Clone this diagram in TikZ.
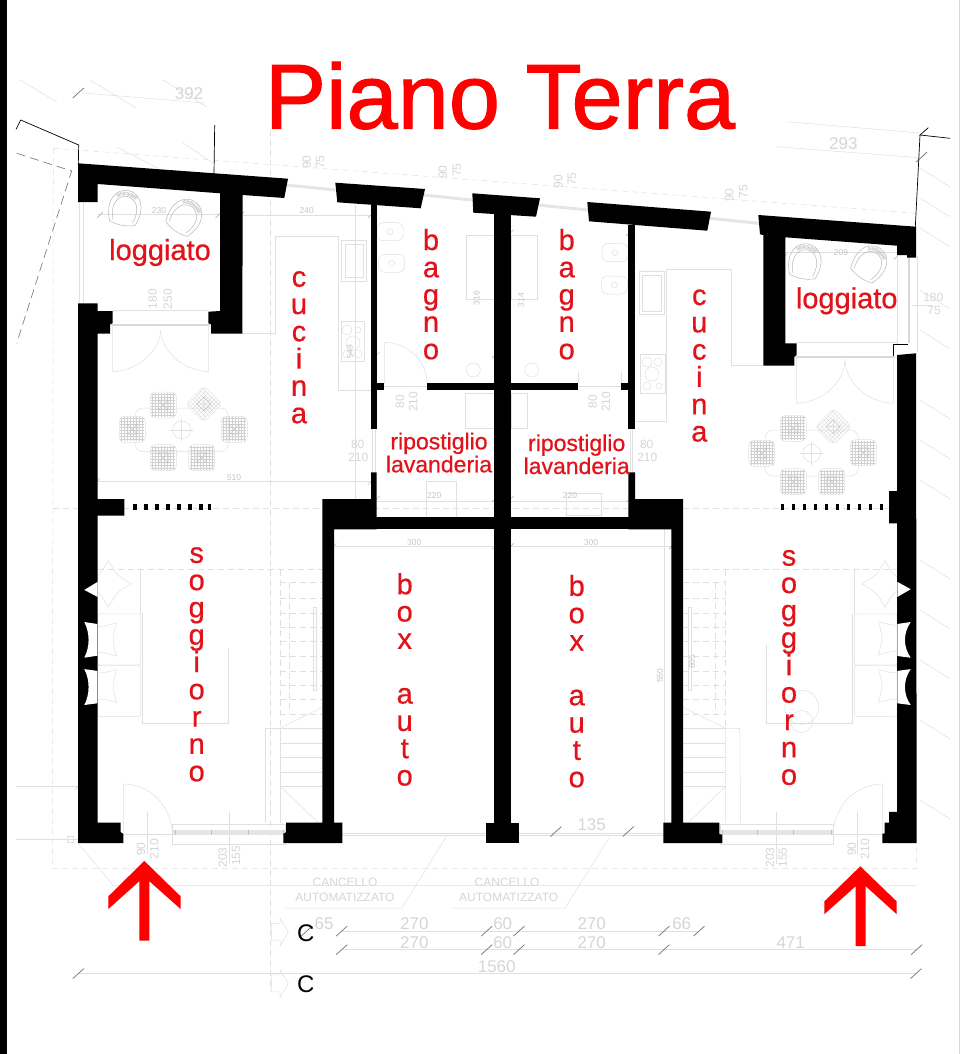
\documentclass[tikz,border=0pt]{standalone}
\usepackage{fontspec}
\setmainfont{Liberation Sans}
\newfontfamily\roomfont[FakeBold=0.6]{Liberation Sans}
\newfontfamily\titlefont[FakeBold=1.2]{Liberation Sans}
\definecolor{roomred}{HTML}{E2121A}
\tikzset{
  wallfill/.style={fill=black,draw=none},
  flare/.style={fill=white,draw=none},
  faint/.style={draw=black!12,line width=0.5pt},
  faintdash/.style={faint,dash pattern=on 6pt off 4pt},
  tickmark/.style={draw=black!55,line width=0.7pt},
  smalltick/.style={draw=black!35,line width=0.4pt},
  sketch/.style={draw=black,line width=0.7pt},
  roomlabel/.style={text=roomred,font=\roomfont\fontsize{29}{29}\selectfont,inner sep=0pt,anchor=base},
  smalllabel/.style={text=roomred,font=\roomfont\fontsize{23}{23}\selectfont,inner sep=0pt,anchor=base},
  dimtiny/.style={text=black!22,font=\fontsize{8.5}{9}\selectfont,inner sep=0pt},
  dimmid/.style={text=black!16,font=\fontsize{12}{12}\selectfont,inner sep=0pt},
  dimbig/.style={text=black!16,font=\fontsize{17}{17}\selectfont,inner sep=0pt},
  seat/.pic={
    \foreach \t in {-11,-8,...,11} {
      \draw[draw=black!18,line width=0.25pt] (\t,-12) -- (\t,12);
      \draw[draw=black!18,line width=0.25pt] (-12,\t) -- (12,\t);
    }
    \draw[faint,rounded corners=5pt] (-13,-13) rectangle (13,13);
    \draw[draw=black!25,line width=0.3pt] (-5,-5) rectangle (5,5) (-5,-5) -- (5,5) (-5,5) -- (5,-5);
  },
  chair/.pic={
    \draw[draw=black!28,line width=0.5pt] (-13,15) .. controls (-21,-5) and (-12,-18) .. (0,-18) .. controls (12,-18) and (21,-5) .. (13,15);
    \draw[draw=black!28,line width=0.5pt] (-10,13) .. controls (-16,-3) and (-8,-12) .. (0,-12) .. controls (8,-12) and (16,-3) .. (10,13);
    \draw[draw=black!25,line width=3.5pt,dash pattern=on 0.5pt off 0.8pt] (-10,-11) .. controls (-6,-16) and (6,-16) .. (10,-11);
    \draw[draw=black!28,line width=0.5pt] (-13,15) .. controls (-5,18) and (5,18) .. (13,15);
  },
  pillow/.pic={
    \draw[faint] (-16.5,-16.5) .. controls (0,-12) .. (16.5,-16.5) .. controls (12,0) .. (16.5,16.5)
      .. controls (0,12) .. (-16.5,16.5) .. controls (-12,0) .. (-16.5,-16.5);
  },
}
\newcommand{\vertlabel}[5]{%
  \foreach \ch [count=\idx from 0] in {#5}
    \node[roomlabel] (#1\idx) at (#2,#3+#4*\idx) {\ch};
}
\begin{document}
\begin{tikzpicture}[x=1pt,y=-1pt]
  \useasboundingbox (0,0) rectangle (960,1054);
  \fill[white] (0,0) rectangle (960,1054);
  \fill[black] (0,0) rectangle (6.5,1054);
  \draw[black!15] (958.8,0) -- (958.8,1054);

  % faint survey lines
  \foreach \xa/\ya/\xb/\yb in {20/80/57/102, 90/80/136/108, 163/80/207/107, 117/147/157/168, 183/143/213/163,
      920/168/950/187, 920/198/950/217, 920/228/950/247, 920/290/950/309, 920/330/950/349, 920/400/950/419,
      920/440/950/459, 920/480/950/499, 920/560/950/579, 920/610/950/629, 920/660/950/679, 920/720/950/739, 920/800/950/819}
    \draw[faint] (\xa,\ya) -- (\xb,\yb);
  \draw[faint] (83,93) -- (205,103);
  \draw[faint] (776.7,146.7) -- (920,157.7);
  \draw[faint] (786.7,121.7) -- (920,133);
  \draw[faintdash] (53.3,148.3) -- (52.3,868.6) -- (916.7,868.6) -- (916.7,843);
  \draw[faintdash] (53.3,148.3) -- (78,150) -- (916,213.3);
  \draw[faintdash] (53,508.3) -- (894,508.3);
  \draw[faintdash] (270,130) -- (270,990.8);
  \draw[faintdash] (97.7,569.6) -- (322,569.6);
  \draw[faintdash] (683,569.6) -- (897,569.6);

  % inner dimension lines
  \draw[faint] (97.7,481.7) -- (371,481.7);
  \draw[faint] (242.7,215) -- (371,215);
  \draw[faint] (97.7,214) -- (220,214);
  \draw[faint] (785.3,252) -- (897,252);
  \draw[faint] (334,546.3) -- (494,546.3);
  \draw[faint] (511,546.3) -- (671,546.3);
  \draw[faint] (664,529.4) -- (664,822.7);
  \draw[faint] (377,501) -- (494,501);
  \draw[faint] (511,501) -- (628,501);
  \draw[faint] (355,205) -- (355,500);
  \draw[faint] (912,305) -- (932,305);
  \draw[faint] (16,786.3) -- (78,786.3);
  \foreach \px/\py in {100/215, 218.5/215, 241/215, 371/215, 376.7/355, 96.7/481.7, 371/481.7, 376.7/499, 495/355, 510.7/232.7,
      495/499, 510.7/499, 629.3/232.7, 629.3/499, 495/546.3, 510.7/546.3, 671.7/546.3, 333.3/546.3, 78.3/786.3, 784/256.7, 896.7/256.7}
    \draw[smalltick] (\px-3,\py+3) -- (\px+3,\py-3);

  % top windows
  \foreach \xa/\ya/\xb/\yb in {286.7/185/335/190, 424/195/471.7/200, 537.3/205/588.3/210, 710/218.3/758.3/223.3}
    \draw[draw=black!10,line width=3pt] (\xa,\ya) -- (\xb,\yb);

  % loggia doors
  \draw[draw=black!15,line width=2pt] (110.7,324.6) -- (210,324.6);
  \draw[faint] (112.7,324) -- (112.7,371.7) .. controls (140,370) and (160,350) .. (160.7,330);
  \draw[faint] (208.3,324) -- (208.3,371.7) .. controls (181,370) and (161,350) .. (160.7,330);
  \draw[faint] (112.7,310) -- (208.3,310);
  \draw[faint] (79.5,202) -- (79.5,303) (83,202) -- (83,303);
  \draw[draw=black!15,line width=2pt] (795,356.7) -- (895,356.7);
  \draw[faint] (796.7,357) -- (796.7,403.3) .. controls (824,402) and (844,382) .. (845,360);
  \draw[faint] (893.3,357) -- (893.3,403.3) .. controls (866,402) and (846,382) .. (845,360);
  \draw[faint] (797,342) -- (897,342);
  \draw[draw=black!15,line width=2pt] (909,257) -- (909,343);
  \draw[faint] (897,255) -- (897,345);
  \draw[faint] (917.7,256) -- (917.7,352);

  % table groups
  \draw[faint,rounded corners=8pt] (135,408) rectangle (228.3,451.7);
  \draw[faint] (181.7,430) circle (9);
  \draw[faint] (170,430) -- (193,430) (181.7,419) -- (181.7,441);
  \foreach \px/\py/\rt in {163.3/405/0, 204/404/45, 234.3/429.3/0, 201.7/457.7/0, 163.3/457.7/0, 132.3/429.3/0}
    \pic[rotate=\rt] at (\px,\py) {seat};
  \draw[faint,rounded corners=8pt] (765,430) rectangle (858.3,476);
  \draw[faint] (811.7,453.3) circle (9);
  \draw[faint] (800,453.3) -- (823,453.3) (811.7,442) -- (811.7,465);
  \foreach \px/\py/\rt in {793.3/428.3/0, 833.3/426.7/45, 863.3/452.7/0, 831.7/481.7/0, 793.3/481.7/0, 761.7/453.3/0}
    \pic[rotate=\rt] at (\px,\py) {seat};

  % loggia chairs
  \pic[rotate=-10] at (125,208.3) {chair};
  \pic[rotate=-35] at (185,216.7) {chair};
  \pic[rotate=-10] at (805,261.7) {chair};
  \pic[rotate=-35] at (870,263.3) {chair};

  % kitchen counters
  \draw[faint] (242.3,333.3) -- (275,333.3) -- (275,236.7) -- (338.3,236.7) -- (338.3,390) -- (371,390);
  \draw[faint] (341.7,240) rectangle (366.7,281.7);
  \draw[faint] (345,244) rectangle (363,277);
  \draw[faint] (341.7,321.7) rectangle (364,361.7);
  \foreach \px/\py/\rr in {347/330/5, 358/330/3, 353/343/7, 347/354/4, 358/354/4}
    \draw[faint] (\px,\py) circle (\rr);
  \draw[faint] (635.7,421.7) -- (666.7,421.7) -- (666.7,269.3) -- (731.7,269.3) -- (731.7,365.7) -- (763,365.7);
  \draw[faint] (639,271.7) rectangle (664,314.3);
  \draw[faint] (642,275) rectangle (661,311);
  \draw[faint] (640,354) rectangle (665,393.3);
  \foreach \px/\py/\rr in {647/362/5, 658/362/4, 652/374/7, 647/386/4, 659/386/3}
    \draw[faint] (\px,\py) circle (\rr);

  % bathrooms
  \foreach \px/\py in {390/231.7, 391.7/263.3, 615/252.7, 614.3/285} {
    \draw[faint,rounded corners=6pt] (\px-13,\py-9) rectangle (\px+13,\py+9);
    \draw[faint] (\px,\py) circle (3);
  }
  \draw[faint] (466.7,235) rectangle (494,299);
  \draw[faint] (511.7,235) rectangle (537.3,299);
  \draw[faint] (384.3,383.3) -- (384.3,342.3) .. controls (408,343) and (426,360) .. (427.3,383.3);
  \draw[faint] (384.3,386.5) -- (427.3,386.5);
  \draw[faint] (578.3,386.5) -- (621,386.5);
  \draw[faint] (578.3,383) -- (578.3,372) (621,383) -- (621,372);
  \draw[faint] (473.3,370) circle (7);
  \draw[faint] (531.7,370) circle (7);
  \draw[faint] (465,393) rectangle (494,428);
  \draw[faint] (511,393) rectangle (527,428);
  \draw[faint] (426.7,481.7) rectangle (456.7,517);
  \draw[faint] (566,493) rectangle (601.7,515);
  \draw[faint] (372.6,429) -- (372.6,472) (375,429) -- (375,472);
  \draw[faint] (630,429) -- (630,472) (632.5,429) -- (632.5,472);

  % sofas
  \foreach \px/\py in {100/639.5, 100/686, 895/638.2, 895/686}
    \pic at (\px,\py) {pillow};
  \pic[rotate=45] at (108.3,583.8) {pillow};
  \pic[rotate=45] at (885,583.8) {pillow};
  \draw[faint,rounded corners=2pt] (97.7,613.9) rectangle (140.7,665);
  \draw[faint,rounded corners=2pt] (97.7,665) rectangle (140.7,716.4);
  \draw[faint] (140.7,569.6) -- (140.7,613.9);
  \draw[faint] (142.3,613) -- (142.3,723.5) -- (228.3,723.5) -- (228.3,647.6);
  \draw[faint,rounded corners=2pt] (854.3,613.9) rectangle (897,665);
  \draw[faint,rounded corners=2pt] (854.3,665) rectangle (897,716.4);
  \draw[faint] (854.3,569.6) -- (854.3,613.9);
  \draw[faint] (766.7,644.5) -- (766.7,723.5) -- (852.3,723.5) -- (852.3,613.9);
  \draw[faint] (801.7,707.3) circle (17);
  \draw[faint] (801.7,721.5) circle (11);

  % stairs
  \foreach \py in {582.5,598.7,612.8,627.3,641.5,656,670.9,685.3,699.5,714.1} {
    \draw[faintdash] (280,\py) -- (322,\py);
    \draw[faintdash] (683,\py) -- (725.7,\py);
  }
  \foreach \py in {728.3,742.8,757.2,772.1,786} {
    \draw[faint] (280,\py) -- (322,\py);
    \draw[faint] (683,\py) -- (725.7,\py);
  }
  \draw[faintdash] (280,569.6) -- (280,728.3);
  \draw[faintdash] (289.3,582.5) -- (289.3,714.1);
  \draw[faintdash] (725.7,569.6) -- (725.7,728.3);
  \draw[faintdash] (715.7,582.5) -- (715.7,714.1);
  \draw[faint] (280,728.3) -- (280,822.7) (265.7,822.7) -- (265.7,728.3) -- (280,728.3);
  \draw[faint] (725.7,728.3) -- (725.7,822.7) (740.7,822.7) -- (739.7,728.3) -- (725.7,728.3);
  \draw[faint] (280,786) -- (318.3,822.7);
  \draw[faint] (725.7,786) -- (688.3,822.7);
  \draw[faint] (280,728.3) -- (322.3,707.3);
  \draw[faint] (683,707.3) -- (725.7,728.3);
  \draw[faint] (313.3,607) rectangle (316.7,690);
  \draw[faint] (688.3,607) rectangle (691.7,690);

  % front windows and doors
  \fill[black!10] (172.3,829.8) rectangle (285.7,834.9);
  \fill[black!10] (720.7,829.8) rectangle (833.3,834.9);
  \draw[faint] (172.3,823.8) rectangle (285.7,844.7);
  \draw[faint] (720.7,823.8) rectangle (833.3,844.7);
  \foreach \px in {175,211,248,283}
    \draw[draw=black!25,line width=0.4pt] (\px,829.8) -- (\px,834.9);
  \foreach \px in {722,757,793,831}
    \draw[draw=black!25,line width=0.4pt] (\px,829.8) -- (\px,834.9);
  \draw[faint] (123.3,833.9) -- (172.3,833.9);
  \draw[faint] (123.3,833.9) -- (123.3,784) .. controls (150,784) and (170,805) .. (172.3,832.2);
  \draw[faint] (833.3,833.9) -- (882.7,833.9);
  \draw[faint] (882.7,833.9) -- (882.7,784) .. controls (856,784) and (835,805) .. (833.3,832.2);
  \draw[faint] (147.5,811.6) -- (147.5,854.1);
  \draw[faint] (229,811.6) -- (229,864.3);
  \draw[faint] (776,811.6) -- (776,864.3);
  \draw[faint] (857.7,811.6) -- (857.7,854.1);
  \draw[faint] (342,832.9) -- (486,832.9) (342,834.9) -- (486,834.9);
  \draw[faint] (519,832.9) -- (663,832.9) (519,834.9) -- (663,834.9);
  \draw[faint] (16,838.9) -- (78,838.9);
  \draw[faint] (67.5,836.4) rectangle (73,842.5);

  % gates and dimension rows
  \draw[faint] (446.7,836.2) -- (401.7,908.1) -- (285.7,908.1);
  \draw[faint] (610,836.2) -- (565,908.1) -- (450,908.1);
  \draw[faint] (78,843) -- (113.3,885.5) -- (916.7,885.5);
  \draw[faint] (341.7,931.1) -- (699,931.1);
  \draw[faint] (341.7,949.6) -- (916.7,949.6);
  \draw[faint] (78.3,973.6) -- (916,973.6);
  \foreach \px/\py in {78.3/93, 306.7/931.1, 341.7/931.1, 486.7/931.1, 519/931.1, 664/931.1, 699/931.1, 341.7/949.6, 486.7/949.6,
      519/949.6, 664/949.6, 916.7/949.6, 78.3/973.6, 916/973.6, 556/831.5, 628.3/831.5, 921.7/157}
    \draw[tickmark] (\px-5.5,\py+5) -- (\px+5.5,\py-5);
  \draw[faint] (271.7,923.3) -- (280,923.3) -- (280,918.2) -- (288.3,931.8) -- (280,946) -- (280,940.2) -- (271.7,940.2) -- cycle;
  \draw[faint] (271.7,974.9) -- (280,974.9) -- (280,969.7) -- (288.3,983.4) -- (280,997.6) -- (280,991.8) -- (271.7,991.8) -- cycle;

  % dimension texts
  \foreach \px/\py/\val [count=\i] in {159/211/230, 306.7/211/240, 234/477.3/510, 434.3/495.7/220, 841/252.7/209,
      570/495.7/220, 414.3/542.6/300, 591/542.6/300}
    \node[dimtiny] (dimtiny\i) at (\px,\py) {\val};
  \foreach \px/\py/\val [count=\i] in {350/351.7/549, 476.7/298/316, 521/300/314, 660/675.9/550, 692.3/661.8/605}
    \node[dimtiny,rotate=90] (dimtinyrot\i) at (\px,\py) {\val};
  \foreach \px/\py/\val [count=\i] in {357.7/444/80, 358.3/457.3/210, 646.7/444/80, 647.3/457.3/210, 933.3/297.3/180, 934/310.7/75,
      345/882.8/CANCELLO, 345/897.4/AUTOMATIZZATO, 507/882.8/CANCELLO, 508.7/897.4/AUTOMATIZZATO}
    \node[dimmid] (dimmid\i) at (\px,\py) {\val};
  \foreach \px/\py/\val [count=\i] in {152.7/299/180, 167.7/299/250, 400/401.7/80, 413.3/401.7/210, 592.7/401.7/80, 606/401.7/210,
      141/849.1/90, 154.3/849.1/210, 222.7/857.5/203, 236/855.8/155, 851.7/849.1/90, 865/849.1/210, 770/857.5/203, 782.7/857.5/155,
      306.7/162.3/90, 320/162.3/75, 442.7/172.3/90, 456.7/170/75, 558.3/181.7/90, 571.7/179/75, 729.3/195/90, 743.3/191.7/75}
    \node[dimmid,rotate=90] (dimmidrot\i) at (\px,\py) {\val};
  \foreach \px/\py/\val [count=\i] in {189/94/392, 843.3/144/293, 591.7/824.7/135, 324/923.3/65, 414.3/923.3/270, 502.7/923.3/60,
      591.7/923.3/270, 681.7/923.3/66, 414.3/942.5/270, 502.7/942.5/60, 591.7/942.5/270, 790.7/942.5/471, 496.7/966.2/1560}
    \node[dimbig] (dimbig\i) at (\px,\py) {\val};

  % thin black sketch lines
  \draw[sketch] (16,129.3) -- (20.7,120) -- (78.7,145) -- (78.3,165);
  \draw[sketch] (214.7,125) -- (214,174);
  \draw[sketch] (928.3,127.7) -- (920,135) -- (950,138.3);
  \draw[sketch] (920,135) -- (915.3,227);
  \draw[draw=black!50,line width=0.7pt,dash pattern=on 9pt off 5pt] (16.7,153.3) -- (71.7,171) -- (16.7,343.3);

  % walls
  \fill[wallfill] (78,163.3) -- (288,178.7) -- (284.3,198) -- (242.7,195) -- (242.3,333.7) -- (211,333.7) -- (211,324.3)
    -- (208.3,323.3) -- (208.3,311.7) -- (220,311) -- (220,193.3) -- (97.7,184) -- (97.7,202) -- (78,202) -- cycle;
  \fill[wallfill] (78,303.3) -- (97.7,303.3) -- (97.7,311) -- (112.7,311) -- (112.7,323.3) -- (110,324.3) -- (110,333.7)
    -- (97.7,333.7) -- (97.7,499) -- (124.3,499) -- (124.3,515.7) -- (97.7,515.7) -- (97.7,822.7) -- (120.7,822.7) -- (120.7,832.2)
    -- (123.3,833.9) -- (123.3,843) -- (78,843) -- cycle;
  \fill[wallfill] (335.3,182.7) -- (425,189) -- (420.7,208.3) -- (337.3,202.3) -- cycle;
  \fill[wallfill] (472.3,193.3) -- (540,198.3) -- (536,216.7) -- (473.3,212.7) -- cycle;
  \fill[wallfill] (587.3,202) -- (711,211.7) -- (707.3,230.7) -- (589,221.3) -- cycle;
  \fill[wallfill] (758.3,215) -- (916,226.7) -- (916,257.7) -- (907,257.7) -- (907,255) -- (897,255) -- (897,245.7)
    -- (785.3,237.3) -- (785.3,343.3) -- (796.7,343.3) -- (796.7,355) -- (794.3,356.7) -- (794.3,365.7) -- (763.3,365.7)
    -- (763.3,235) -- (760,234.3) -- cycle;
  \fill[wallfill] (897,355) -- (916,353.3) -- (916.7,843) -- (882.3,843) -- (882.3,833.9) -- (884.7,833.2) -- (884.7,822.7)
    -- (889,822.7) -- (889,811.9) -- (897,811.9) -- (897,523.3) -- (889,523.3) -- (889,491) -- (897,491) -- cycle;
  \fill[wallfill] (283.3,843) -- (283.3,833.9) -- (286,832.2) -- (286,822.7) -- (322.3,822.7) -- (322.3,499) -- (371,499)
    -- (371,472.3) -- (376.7,472.3) -- (376.7,529.4) -- (334,529.4) -- (334,822.7) -- (342.3,822.7) -- (342.3,843) -- cycle;
  \fill[wallfill] (663.3,843) -- (663.3,822.7) -- (671.3,822.7) -- (671.3,529.4) -- (628.3,529.4) -- (628.3,472.3) -- (635,472.3)
    -- (635,499) -- (683,499) -- (683,822.7) -- (719.3,822.7) -- (719.3,833.9) -- (722.3,834.9) -- (722.3,843) -- cycle;
  \fill[wallfill] (371,517.3) rectangle (635,529.4);
  \fill[wallfill] (494,205) rectangle (511.3,822.7);
  \fill[wallfill] (486,822.7) rectangle (519.3,843);
  \fill[wallfill] (371,205) rectangle (376.7,429.3);
  \fill[wallfill] (628.3,225) rectangle (635,429.3);
  \fill[wallfill] (376.7,383.3) rectangle (384.3,390);
  \fill[wallfill] (427.3,383.3) rectangle (494,390);
  \fill[wallfill] (511,383.3) rectangle (578.3,390);
  \fill[wallfill] (621,383.3) rectangle (628.3,390);
  \draw[sketch] (893.3,355.7) -- (893.3,344.3) -- (908.3,344.3);
  \foreach \px in {133.3,144.3,155.3,166.3,177.3,188.3,199.3,208}
    \fill[wallfill] (\px,504.3) rectangle (\px+3.3,510);
  \foreach \px in {780.7,791.7,802.7,813.7,824.7,835.7,846.7,857.7,868.7,879.7}
    \fill[wallfill] (\px,504.3) rectangle (\px+3.3,510);

  % cushion cuts in the side walls
  \fill[flare] (97.7,581.8) -- (84.3,589.9) -- (97.7,597) -- cycle;
  \fill[flare] (84.3,622) -- (97.3,624) -- (97.3,655.7) -- (84.3,657.7) .. controls (90,646.6) and (90,633.4) .. (84.3,622);
  \fill[flare] (84.3,669.1) -- (97.3,670.9) -- (97.3,703.3) -- (84.3,705) .. controls (90,694.2) and (90,680) .. (84.3,669.1);
  \fill[flare] (897.3,581.8) -- (910.7,589.2) -- (897.3,597) -- cycle;
  \fill[flare] (897.3,624) -- (910.7,622) .. controls (903,633.4) and (903,646.6) .. (910.7,657.7) -- (897.3,656) -- cycle;
  \fill[flare] (897.3,670.9) -- (910.7,669.1) .. controls (903,680) and (903,694.2) .. (910.7,705) -- (897.3,703.3) -- cycle;

  % entrance arrows
  \fill[red] (144.3,860.9) -- (180.7,896.4) -- (180.7,909.1) -- (149.3,881.2) -- (149.3,940.5) -- (139.3,940.5) -- (139.3,881.2)
    -- (108.3,909.1) -- (108.3,896.4) -- cycle;
  \fill[red] (860.3,866.3) -- (896.7,901.4) -- (896.7,914.2) -- (865.7,886.2) -- (865.7,946) -- (855.7,946) -- (855.7,886.2)
    -- (824.3,914.2) -- (824.3,901.4) -- cycle;

  % room names
  \node[inner sep=0pt,anchor=base,text=red,font=\titlefont\fontsize{92}{92}\selectfont] (title) at (500,128.5) {Piano Terra};
  \node[roomlabel] (loggiaL) at (160,260) {loggiato};
  \node[roomlabel] (loggiaR) at (846.7,308.3) {loggiato};
  \vertlabel{bagnoL}{431}{250}{27.3}{b,a,g,n,o}
  \vertlabel{bagnoR}{566.7}{250}{27.3}{b,a,g,n,o}
  \vertlabel{cucinaL}{299}{286.7}{27.3}{c,u,c,i,n,a}
  \vertlabel{cucinaR}{699.3}{305}{27.3}{c,u,c,i,n,a}
  \vertlabel{soggL}{196.7}{562.8}{27.3}{s,o,g,g,i,o,r,n,o}
  \vertlabel{soggR}{789}{565.6}{27.4}{s,o,g,g,i,o,r,n,o}
  \vertlabel{boxL}{404.7}{594.2}{27.3}{b,o,x}
  \vertlabel{autoL}{404.7}{703.6}{27.3}{a,u,t,o}
  \vertlabel{boxR}{576.7}{595.9}{27.3}{b,o,x}
  \vertlabel{autoR}{576.7}{705.3}{27.3}{a,u,t,o}
  \node[smalllabel] (ripoL) at (439,449.3) {ripostiglio};
  \node[smalllabel] (lavaL) at (439,472.3) {lavanderia};
  \node[smalllabel] (ripoR) at (576.7,451) {ripostiglio};
  \node[smalllabel] (lavaR) at (576.7,474) {lavanderia};

  % section marks
  \node[inner sep=0pt,anchor=base,font=\fontsize{24}{24}\selectfont] (sectA) at (305.7,941.2) {C};
  \node[inner sep=0pt,anchor=base,font=\fontsize{24}{24}\selectfont] (sectB) at (305.7,992.5) {C};
\end{tikzpicture}
\end{document}
